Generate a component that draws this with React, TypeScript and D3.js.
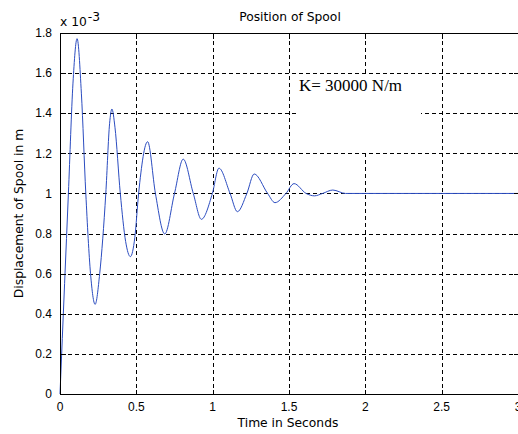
import React, { useRef, useEffect } from 'react';
import * as d3 from 'd3';

// time (s) and spool displacement (x 10^-3 m)
const timeS = [
  0, 0.03, 0.055, 0.085, 0.112, 0.14, 0.169, 0.2, 0.23,
  0.26, 0.3, 0.325, 0.34, 0.36, 0.395, 0.43, 0.461,
  0.49, 0.515, 0.574, 0.625, 0.686,
  0.75, 0.807, 0.873, 0.926, 0.998, 1.041, 1.114, 1.162,
  1.224, 1.272, 1.36, 1.408, 1.48, 1.533, 1.612, 1.667, 1.72, 1.787,
  1.87, 2.0, 2.5, 3.0,
];
const displacement = [
  0, 0.55, 1.0, 1.55, 1.772, 1.5, 1.0, 0.6, 0.447,
  0.6, 1.0, 1.35, 1.421, 1.33, 1.0, 0.76, 0.685,
  0.78, 1.0, 1.258, 1.0, 0.798,
  1.0, 1.171, 1.0, 0.871, 1.0, 1.126, 1.0, 0.909,
  1.0, 1.097, 1.0, 0.954, 1.0, 1.049, 1.0, 0.988, 1.0, 1.017,
  1.0, 1.0, 1.0, 1.0,
];

const xTicks = [0, 0.5, 1, 1.5, 2, 2.5, 3];
const yTicks = [0, 0.2, 0.4, 0.6, 0.8, 1, 1.2, 1.4, 1.6, 1.8];

const title = 'Position of Spool';
const xLabel = 'Time in Seconds';
const yLabel = 'Displacement of Spool in m';
const note = 'K= 30000 N/m';

const W = 518;
const H = 434;
const plot = { left: 60, top: 33, right: 518, bottom: 394 };

const App = () => {
  const svgRef = useRef<SVGSVGElement>(null);

  const draw = (el: SVGSVGElement) => {
    const svg = d3.select(el);
    svg.selectAll('*').remove();

    const x = d3.scaleLinear().domain([0, 3]).range([plot.left, plot.right]);
    const y = d3.scaleLinear().domain([0, 1.8]).range([plot.bottom, plot.top]);
    const px = (v: number) => Math.round(x(v)) + 0.5;
    const py = (v: number) => Math.round(y(v)) + 0.5;

    svg.append('rect').attr('width', W).attr('height', H).attr('fill', '#fff');

    const grid = svg.append('g')
      .attr('stroke', '#000')
      .attr('stroke-width', 1)
      .attr('stroke-dasharray', '4,3')
      .attr('shape-rendering', 'crispEdges');
    grid.selectAll('line.v')
      .data(xTicks.filter((d) => d > 0 && d < 3))
      .join('line')
      .attr('class', 'v')
      .attr('x1', (d) => px(d)).attr('x2', (d) => px(d))
      .attr('y1', py(1.8)).attr('y2', py(0));
    grid.selectAll('line.h')
      .data(yTicks.filter((d) => d > 0 && d < 1.8))
      .join('line')
      .attr('class', 'h')
      .attr('y1', (d) => py(d)).attr('y2', (d) => py(d))
      .attr('x1', px(0)).attr('x2', px(3));

    // text box sits over the grid
    svg.append('rect')
      .attr('x', 298).attr('y', 74)
      .attr('width', 123).attr('height', 77)
      .attr('fill', '#fff');
    svg.append('text')
      .attr('x', 299).attr('y', 91)
      .attr('font-family', '"Liberation Serif", serif')
      .attr('font-size', 17)
      .attr('fill', '#000')
      .text(note);

    const pts = timeS.map((t, i) => [t, displacement[i]] as [number, number]);
    const line = d3.line<[number, number]>()
      .x((d) => x(d[0]))
      .y((d) => y(d[1]))
      .curve(d3.curveMonotoneX);
    svg.append('path')
      .datum(pts)
      .attr('d', line)
      .attr('fill', 'none')
      .attr('stroke', '#2b4cc0')
      .attr('stroke-width', 1);

    // axes box with inward ticks
    const ax = svg.append('g')
      .attr('stroke', '#000')
      .attr('stroke-width', 1)
      .attr('shape-rendering', 'crispEdges');
    ax.append('rect')
      .attr('x', px(0)).attr('y', py(1.8))
      .attr('width', px(3) - px(0)).attr('height', py(0) - py(1.8))
      .attr('fill', 'none');
    const tl = 5;
    xTicks.forEach((t) => {
      ax.append('line').attr('x1', px(t)).attr('x2', px(t)).attr('y1', py(0)).attr('y2', py(0) - tl);
      ax.append('line').attr('x1', px(t)).attr('x2', px(t)).attr('y1', py(1.8)).attr('y2', py(1.8) + tl);
    });
    yTicks.forEach((t) => {
      ax.append('line').attr('y1', py(t)).attr('y2', py(t)).attr('x1', px(0)).attr('x2', px(0) + tl);
      ax.append('line').attr('y1', py(t)).attr('y2', py(t)).attr('x1', px(3)).attr('x2', px(3) - tl);
    });

    const tickFont = '"Liberation Sans", Arial, sans-serif';
    svg.append('g')
      .selectAll('text')
      .data(xTicks)
      .join('text')
      .attr('x', (d) => x(d))
      .attr('y', 411)
      .attr('text-anchor', 'middle')
      .attr('font-family', tickFont)
      .attr('font-size', 12)
      .text((d) => String(d));
    svg.append('g')
      .selectAll('text')
      .data(yTicks)
      .join('text')
      .attr('x', 52)
      .attr('y', (d) => y(d))
      .attr('dy', '0.35em')
      .attr('text-anchor', 'end')
      .attr('font-family', tickFont)
      .attr('font-size', 12)
      .text((d) => String(d));

    const labelFont = '"DejaVu Sans", sans-serif';
    svg.append('text')
      .attr('x', (plot.left + plot.right) / 2 + 1)
      .attr('y', 21)
      .attr('text-anchor', 'middle')
      .attr('font-family', labelFont)
      .attr('font-size', 12.3)
      .text(title);
    svg.append('text')
      .attr('x', (plot.left + plot.right) / 2 - 1)
      .attr('y', 427)
      .attr('text-anchor', 'middle')
      .attr('font-family', labelFont)
      .attr('font-size', 12.3)
      .text(xLabel);
    svg.append('text')
      .attr('transform', `translate(22.5, ${(plot.top + plot.bottom) / 2}) rotate(-90)`)
      .attr('text-anchor', 'middle')
      .attr('font-family', labelFont)
      .attr('font-size', 12.3)
      .text(yLabel);

    const exp = svg.append('text')
      .attr('x', 60)
      .attr('y', 26)
      .attr('font-family', labelFont)
      .attr('font-size', 12.3);
    exp.append('tspan').text('x 10');
    exp.append('tspan').attr('dy', -5).attr('dx', 1).text('-3');
  };

  useEffect(() => {
    document.body.style.margin = '0';
    if (svgRef.current) draw(svgRef.current);
  }, [svgRef]);

  return (
    <div>
      <svg ref={svgRef} width={W} height={H} style={{ display: 'block' }} />
    </div>
  );
};

export default App;
